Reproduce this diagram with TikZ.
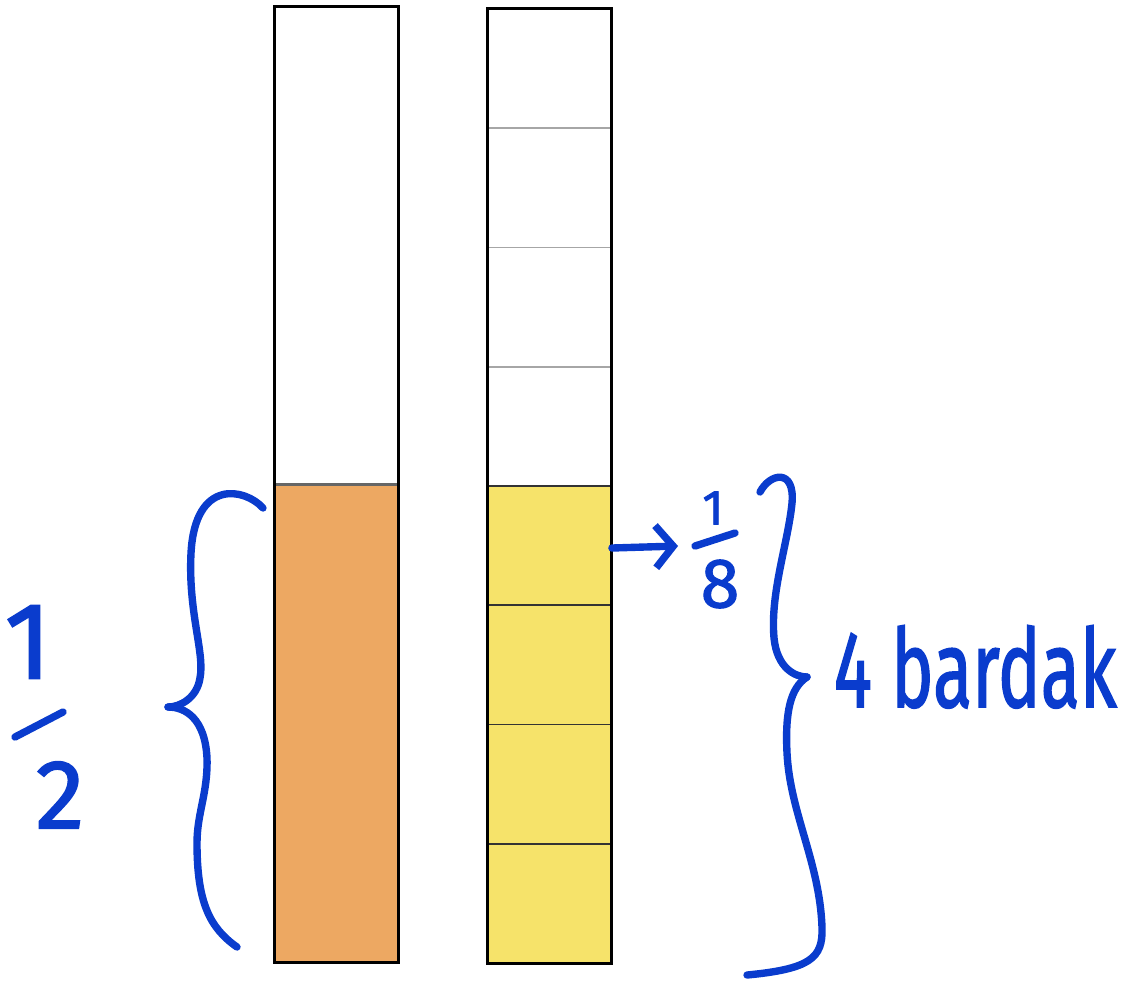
\documentclass[tikz,border=0pt]{standalone}
\usepackage{fontspec}
\setmainfont{Fira Sans}
\newfontfamily\handfont[FakeBold=1.6]{Fira Sans}
\usepackage{xcolor}
\usepackage{tikz}
\usetikzlibrary{positioning}
\usetikzlibrary{arrows.meta}
\definecolor{handblue}{RGB}{10,60,205}
\definecolor{cuporange}{RGB}{237,168,98}
\definecolor{cupyellow}{RGB}{246,227,106}
\tikzset{
  ink/.style={handblue, line width=2.1pt, line cap=round, line join=round},
  inktext/.style={text=handblue, inner sep=0pt},
  halfbox/.style={rectangle, minimum width=1.23cm, minimum height=4.765cm, inner sep=0pt, draw=black!60, line width=0.5pt},
  eighthbox/.style={rectangle, minimum width=1.23cm, minimum height=1.1925cm, inner sep=0pt, line width=0.5pt},
}
\begin{document}
\begin{tikzpicture}
  \useasboundingbox (0,0) rectangle (11.30,9.83);
  % left cup: one half
  \node[halfbox, fill=white] (htop) at (3.365, 7.3775) {};
  \node[halfbox, fill=cuporange, below=0pt of htop] (hbot) {};
  \draw[black, line width=0.85pt] (htop.north west) rectangle (hbot.south east);
  % right cup: eighths
  \foreach \i in {1,...,4}
    \node[eighthbox, fill=white, draw=gray!70] (s\i) at (5.495, {9.74-(\i-0.5)*1.1925}) {};
  \foreach \i in {5,...,8}
    \node[eighthbox, fill=cupyellow, draw=black!80] (s\i) at (5.495, {9.74-(\i-0.5)*1.1925}) {};
  \draw[black, line width=0.85pt] (s1.north west) rectangle (s8.south east);
  % left brace and 1/2
  \draw[ink] (2.63,4.75) .. controls (2.45,4.95) and (1.95,5.05) .. (1.91,4.30)
    .. controls (1.88,3.70) and (2.05,3.30) .. (2.00,3.05)
    .. controls (1.97,2.85) and (1.80,2.76) .. (1.68,2.76);
  \draw[ink] (1.68,2.76) .. controls (1.85,2.76) and (2.05,2.65) .. (2.07,2.25)
    .. controls (2.08,1.90) and (1.97,1.70) .. (1.97,1.40)
    .. controls (1.97,0.80) and (2.10,0.55) .. (2.37,0.36);
  \node[inktext, font=\handfont\fontsize{31}{31}\selectfont] (one) at (0.28,3.41) {1};
  \draw[ink] (0.15,2.46) -- (0.63,2.71);
  \node[inktext, font=\handfont\fontsize{28}{28}\selectfont] (two) at (0.60,1.88) {2};
  % arrow to 1/8
  \coordinate (tip) at (6.78,4.37);
  \draw[ink, -{Straight Barb[length=5pt, width=12pt]}] (s5.east |- 0,4.35) -- (tip);
  \node[inktext, font=\handfont\fontsize{14}{14}\selectfont] (eone) at (7.13,4.75) {1};
  \draw[ink] (6.95,4.37) -- (7.35,4.50);
  \node[inktext, font=\handfont\fontsize{20}{20}\selectfont] (eight) at (7.20,3.99) {8};
  % right brace and 4 bardak
  \draw[ink] (7.60,4.91) .. controls (7.70,5.10) and (7.95,5.15) .. (7.92,4.80)
    .. controls (7.88,4.40) and (7.70,3.90) .. (7.74,3.45)
    .. controls (7.77,3.15) and (7.95,3.06) .. (8.07,3.06);
  \draw[ink] (8.07,3.06) .. controls (7.90,2.95) and (7.85,2.70) .. (7.87,2.30)
    .. controls (7.90,1.70) and (8.20,1.20) .. (8.22,0.55)
    .. controls (8.23,0.25) and (8.10,0.14) .. (7.47,0.08);
  \node[inktext, font=\handfont\fontsize{31}{31}\selectfont, anchor=base west] (cups) at (8.33,2.76) {\scalebox{0.66}[1]{4 bardak}};
\end{tikzpicture}
\end{document}
